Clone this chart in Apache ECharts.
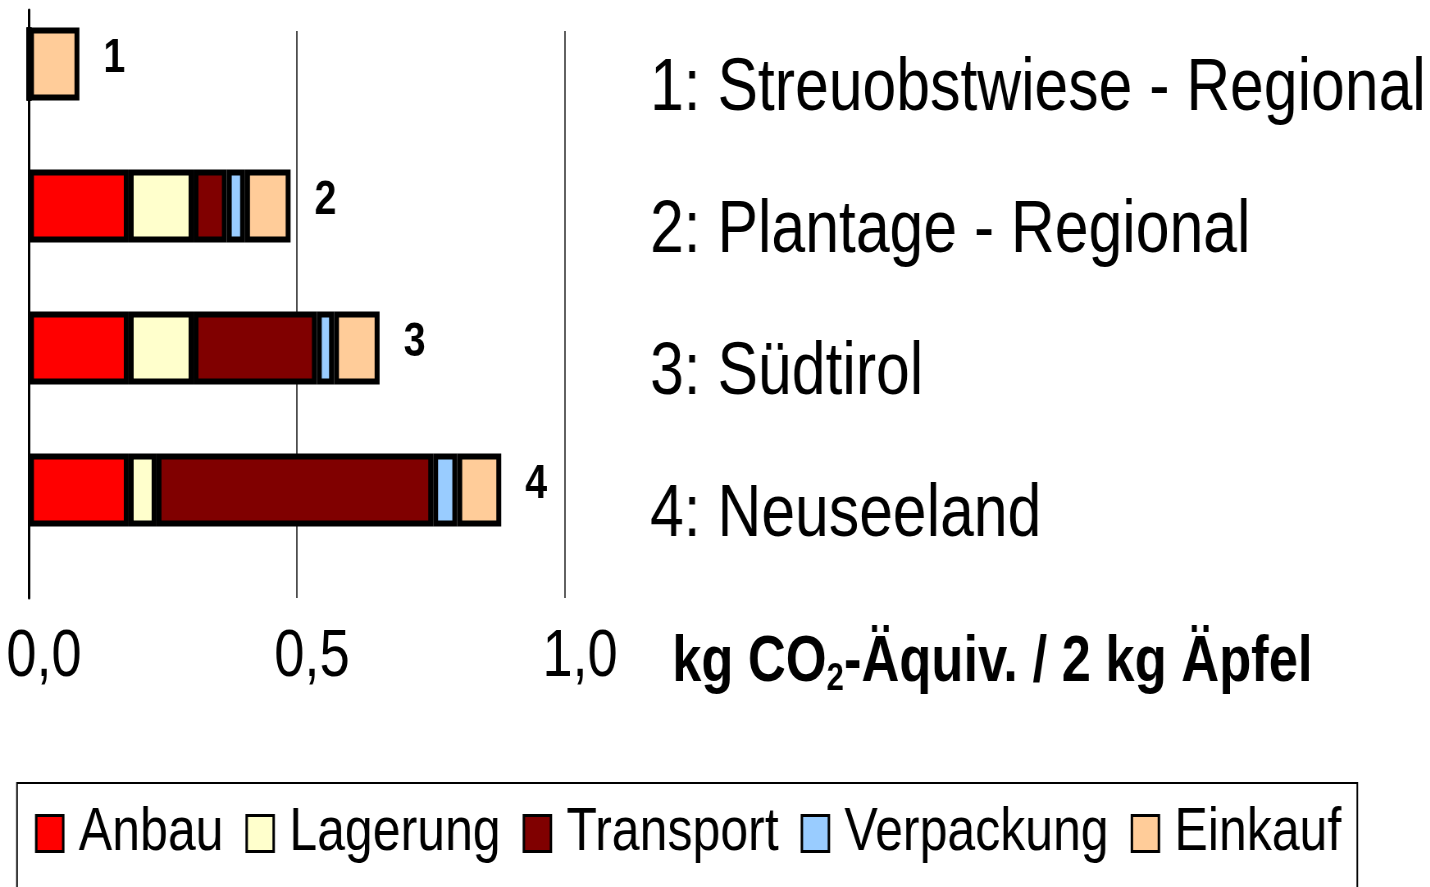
<!DOCTYPE html>
<html>
<head>
<meta charset="utf-8">
<script src="https://cdn.jsdelivr.net/npm/echarts@6/dist/echarts.min.js"></script>
<style>
	html, body { margin: 0; padding: 0; background: #fff; overflow: hidden; }
	#chart { height: 887px; transform-origin: 0 0; }
</style>
</head>
<body>
<div id="chart"></div>
<script>
// the reference uses a narrow font: draw wider and squeeze the canvas horizontally
var SX = 0.82;
var FONT = '"Liberation Sans", Arial, sans-serif';
function hx(x) { return x / SX; }

// data
var categories = ['1', '2', '3', '4'];
var groupNames = ['Streuobstwiese - Regional', 'Plantage - Regional', 'Südtirol', 'Neuseeland'];
var seriesNames = ['Anbau', 'Lagerung', 'Transport', 'Verpackung', 'Einkauf'];
var anbau = [0, 0.186, 0.186, 0.186];
var lagerung = [0, 0.121, 0.121, 0.052];
var transport = [0, 0.062, 0.230, 0.516];
var verpackung = [0, 0.034, 0.032, 0.045];
var einkauf = [0.094, 0.085, 0.085, 0.082];

var colors = ['#ff0000', '#ffffcc', '#800000', '#99ccff', '#ffcc99'];
var values = [anbau, lagerung, transport, verpackung, einkauf];

var dom = document.getElementById('chart');
var W = Math.round(1430 / SX);
dom.style.width = W + 'px';
dom.style.transform = 'scaleX(' + SX + ')';

var myChart = echarts.init(dom);

var gridLeft = hx(29);
var gridRight = W - hx(565);

var series = [];
for (var i = 0; i < seriesNames.length; i++) {
	series.push({
		name: seriesNames[i],
		type: 'bar',
		stack: 'total',
		xAxisIndex: 0,
		yAxisIndex: 0,
		barWidth: 73,
		data: values[i],
		itemStyle: {
			color: colors[i],
			borderColor: '#000',
			borderWidth: 6
		},
		label: {
			show: i == seriesNames.length - 1,
			position: 'right',
			distance: hx(24),
			offset: [0, -5],
			formatter: function(p) { return categories[p.dataIndex]; },
			color: '#000',
			fontFamily: FONT,
			fontWeight: 'bold',
			fontSize: 48
		}
	});
}

var option = {
	backgroundColor: '#fff',
	animation: false,
	title: {
		left: hx(668),
		top: 622,
		text: '{m|kg CO}{s|2}{m|-Äquiv. / 2 kg Äpfel}',
		textStyle: {
			rich: {
				m: { fontFamily: FONT, fontWeight: 'bold', fontSize: 64, color: '#000', lineHeight: 72 },
				s: { fontFamily: FONT, fontWeight: 'bold', fontSize: 38, color: '#000', lineHeight: 72, verticalAlign: 'bottom' }
			}
		}
	},
	legend: {
		left: hx(17),
		top: 783,
		orient: 'horizontal',
		padding: [20, hx(16), 40, hx(18)],
		borderColor: '#000',
		borderWidth: 2,
		itemGap: hx(22),
		itemWidth: hx(27),
		itemHeight: 36,
		icon: 'rect',
		itemStyle: { borderWidth: 3, borderColor: '#000' },
		textStyle: { fontFamily: FONT, fontSize: 61, color: '#000', padding: [0, 0, 0, 14] },
		data: seriesNames
	},
	grid: [
		{ left: gridLeft, right: gridRight, top: -7, bottom: 326, outerBoundsMode: 'none' },
		{ left: gridLeft, right: gridRight, top: 10, bottom: 289, outerBoundsMode: 'none' },
		{ left: gridLeft, right: gridRight, top: 31, bottom: 289, outerBoundsMode: 'none' }
	],
	xAxis: [
		{ gridIndex: 0, type: 'value', min: 0, max: 1, show: false },
		{ gridIndex: 1, type: 'value', min: 0, max: 1, show: false },
		{
			gridIndex: 2,
			type: 'value',
			min: 0,
			max: 1,
			interval: 0.5,
			axisLine: { show: false },
			axisTick: { show: false },
			splitLine: { show: true, lineStyle: { color: '#111', width: 1.5 } },
			axisLabel: {
				margin: 27,
				padding: [0, 0, 0, hx(30)],
				fontFamily: FONT,
				fontSize: 66,
				color: '#000',
				formatter: function(v) { return v.toFixed(1).replace('.', ','); }
			}
		}
	],
	yAxis: [
		{ gridIndex: 0, type: 'category', inverse: true, data: categories, show: false },
		{
			gridIndex: 0,
			type: 'category',
			inverse: true,
			position: 'right',
			data: categories,
			axisLine: { show: false },
			axisTick: { show: false },
			axisLabel: {
				margin: hx(85),
				align: 'left',
				verticalAlign: 'middle',
				lineHeight: 52,
				fontFamily: FONT,
				fontSize: 74,
				color: '#000',
				formatter: function(v, idx) { return '\n' + v + ': ' + groupNames[idx]; }
			}
		},
		{
			gridIndex: 1,
			type: 'category',
			data: categories,
			axisLine: { show: true, lineStyle: { color: '#000', width: 3 } },
			axisTick: { show: false },
			axisLabel: { show: false }
		},
		{ gridIndex: 2, type: 'value', show: false }
	],
	series: series
};

myChart.setOption(option);
</script>
</body>
</html>
